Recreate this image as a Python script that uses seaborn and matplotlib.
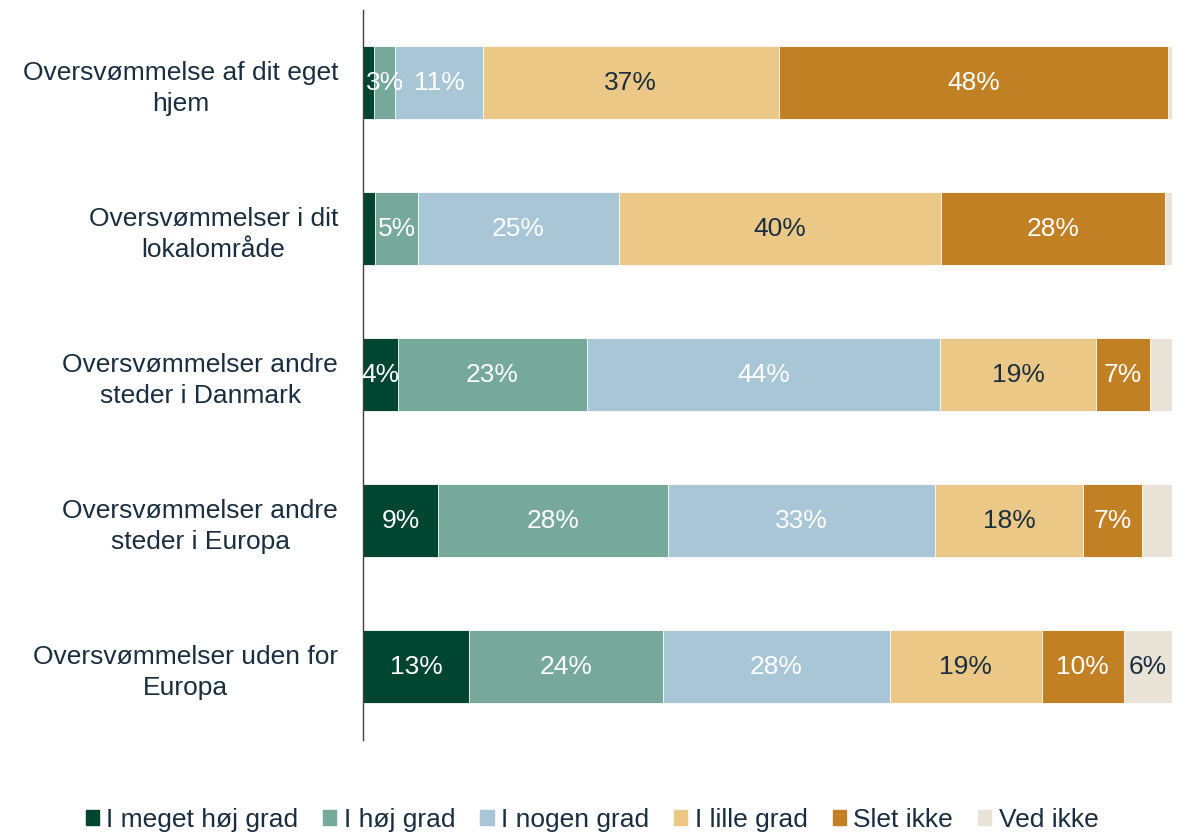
import numpy as np
import pandas as pd
import seaborn as sns
import matplotlib.pyplot as plt

# svarfordeling pr. spørgsmål (procent)
categories = [
    'Oversvømmelse af dit eget\nhjem',
    'Oversvømmelser i dit\nlokalområde',
    'Oversvømmelser andre\nsteder i Danmark',
    'Oversvømmelser andre\nsteder i Europa',
    'Oversvømmelser uden for\nEuropa',
]
series = ['I meget høj grad', 'I høj grad', 'I nogen grad', 'I lille grad', 'Slet ikke', 'Ved ikke']
meget_hoej = [1.4, 1.5, 4.3, 9.3, 13.1]
hoej = [2.6, 5.3, 23.4, 28.4, 24.0]
nogen = [10.8, 24.8, 43.6, 33.0, 28.0]
lille = [36.6, 39.8, 19.3, 18.3, 18.8]
slet_ikke = [48.1, 27.7, 6.6, 7.3, 10.1]
ved_ikke = [0.5, 0.9, 2.8, 3.7, 6.0]

colors = ['#00452f', '#76a99a', '#a8c6d6', '#ebc885', '#c28024', '#e8e2d7']
label_colors = ['white', 'white', 'white', '#1a2e40', 'white', '#1a2e40']
navy = '#1a2e40'
fs = 19

sns.set_theme(style='white')
plt.rcParams['font.family'] = ['Liberation Sans', 'DejaVu Sans']

df = pd.DataFrame(dict(zip(series, [meget_hoej, hoej, nogen, lille, slet_ikke, ved_ikke])),
                  index=categories)
cum = df.cumsum(axis=1)

fig = plt.figure(figsize=(11.84, 8.32), dpi=100)
ax = fig.add_axes([0.3066, 0.111, 0.6834, 0.877])

# tegn kumulerede bjælker bagfra, så de stables
for i in reversed(range(len(series))):
    s = series[i]
    sns.barplot(x=cum[s].values, y=categories, orient='h', color=colors[i],
                width=0.5, edgecolor='white', linewidth=0.6, saturation=1, ax=ax)

for i, s in enumerate(series):
    lefts = cum[s].values - df[s].values
    for j, v in enumerate(df[s].values):
        if v < 2.5 or (s == 'Ved ikke' and v < 5):
            continue
        ax.text(lefts[j] + v / 2, j, f'{v:.0f}%', ha='center', va='center',
                color=label_colors[i], fontsize=fs)

ax.set_xlim(0, 100)
ax.set_ylim(4.5, -0.5)
ax.set_xlabel('')
ax.set_ylabel('')
ax.set_xticks([])
ax.tick_params(axis='y', length=0, pad=18, labelsize=fs, labelcolor=navy)
for t in ax.get_yticklabels():
    t.set_multialignment('center')
    t.set_linespacing(1.35)
for side in ['top', 'right', 'bottom']:
    ax.spines[side].set_visible(False)
ax.spines['left'].set_color('#404040')
ax.spines['left'].set_linewidth(1)

handles = [plt.Rectangle((0, 0), 1, 1, color=c) for c in colors]
fig.legend(handles, series, loc='lower center', bbox_to_anchor=(0.5, -0.028), ncol=6,
           frameon=False, fontsize=fs, handlelength=0.5, handleheight=0.5,
           handletextpad=0.28, columnspacing=0.95, labelcolor=navy)

fig.savefig('out.png', dpi=100)
